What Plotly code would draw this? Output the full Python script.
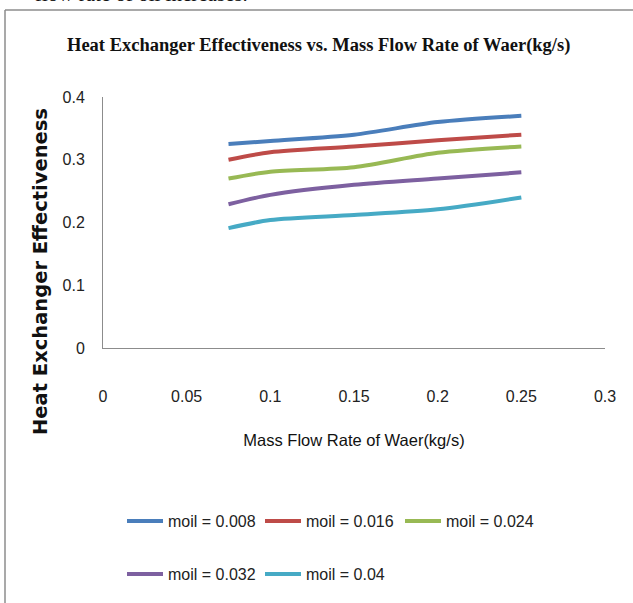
import plotly.graph_objects as go

# ---- data ----
x_water = [0.075, 0.1, 0.15, 0.2, 0.25]
series_names = ["moil = 0.008", "moil = 0.016", "moil = 0.024", "moil = 0.032", "moil = 0.04"]
eff_0008 = [0.325, 0.33, 0.34, 0.36, 0.37]
eff_0016 = [0.30, 0.312, 0.321, 0.331, 0.34]
eff_0024 = [0.27, 0.281, 0.288, 0.311, 0.321]
eff_0032 = [0.229, 0.244, 0.26, 0.27, 0.28]
eff_004 = [0.191, 0.204, 0.212, 0.221, 0.24]
x_ticks = [0, 0.05, 0.1, 0.15, 0.2, 0.25, 0.3]
x_ticktext = ["0", "0.05", "0.1", "0.15", "0.2", "0.25", "0.3"]
y_ticks = [0, 0.1, 0.2, 0.3, 0.4]
y_ticktext = ["0", "0.1", "0.2", "0.3", "0.4"]

colors = ["#4A7EBB", "#BE4B48", "#98B954", "#7D60A0", "#46AAC5"]
all_series = [eff_0008, eff_0016, eff_0024, eff_0032, eff_004]

sans = "Liberation Sans, Arial, sans-serif"

W, H = 633, 603
L, R, T, B = 103, 28, 97, 255
pw, ph = W - L - R, H - T - B

def px(xp):
    return (xp - L) / pw

def py(yp):
    return (H - B - yp) / ph

# legend entry positions (pixel) : line-sample start x, row centre y
legend_pos = [(127, 521), (265, 521), (405, 521), (127, 574), (265, 574)]

fig = go.Figure()
legend_layout = {}
for i, (name, ys, c, pos) in enumerate(zip(series_names, all_series, colors, legend_pos)):
    lid = "legend" if i == 0 else f"legend{i + 1}"
    fig.add_trace(go.Scatter(
        x=x_water, y=ys, name=name, mode="lines",
        line=dict(color=c, width=4, shape="spline", smoothing=0.8),
        legend=lid,
    ))
    legend_layout[lid] = dict(
        orientation="h", x=px(pos[0] - 5), y=py(pos[1]),
        xanchor="left", yanchor="middle",
        font=dict(family=sans, size=16, color="#222"),
        itemwidth=36, bgcolor="rgba(0,0,0,0)",
    )

fig.update_layout(
    width=W, height=H,
    margin=dict(l=L, r=R, t=T, b=B),
    paper_bgcolor="white", plot_bgcolor="white",
    showlegend=True,
    xaxis=dict(
        range=[0, 0.3], tickvals=x_ticks, ticktext=x_ticktext,
        showgrid=False, zeroline=False, showline=True,
        linecolor="#8C8C8C", linewidth=1, ticks="",
        ticklabelstandoff=34,
        tickfont=dict(family=sans, size=16, color="#222"),
        title=dict(text="Mass Flow Rate of Waer(kg/s)",
                   font=dict(family=sans, size=16.5, color="#111"),
                   standoff=30),
    ),
    yaxis=dict(
        range=[0, 0.4], tickvals=y_ticks, ticktext=y_ticktext,
        showgrid=False, zeroline=False, showline=True,
        linecolor="#8C8C8C", linewidth=1, ticks="",
        ticklabelstandoff=14,
        tickfont=dict(family=sans, size=16, color="#222"),
    ),
    **legend_layout,
)

# y axis title (bold, rotated)
fig.add_annotation(
    text="<b>Heat Exchanger Effectiveness</b>", textangle=-90,
    xref="paper", yref="paper", x=px(40), y=py(272),
    xanchor="center", yanchor="middle", showarrow=False,
    font=dict(family="DejaVu Sans, Verdana, sans-serif", size=19.5, color="#111"),
)
# chart title
fig.add_annotation(
    text="<b>Heat Exchanger Effectiveness vs. Mass Flow Rate of Waer(kg/s)</b>",
    xref="paper", yref="paper", x=px(318), y=py(46),
    xanchor="center", yanchor="middle", showarrow=False,
    font=dict(family="Liberation Serif, Times New Roman, serif", size=18.5, color="#111"),
)
# cropped document text above the chart frame
fig.add_annotation(
    text="flow rate of oil increases.",
    xref="paper", yref="paper", x=px(250), y=py(-6),
    xanchor="right", yanchor="middle", showarrow=False,
    font=dict(family="Liberation Serif, Times New Roman, serif", size=21, color="#111"),
)
# chart frame (left and top borders)
fig.add_shape(type="line", xref="paper", yref="paper",
              x0=px(5), x1=px(5), y0=py(10), y1=py(H + 5),
              line=dict(color="#8C8C8C", width=1.5))
fig.add_shape(type="line", xref="paper", yref="paper",
              x0=px(5), x1=px(W + 5), y0=py(10), y1=py(10),
              line=dict(color="#8C8C8C", width=1.5))

fig.write_html("out.html")
